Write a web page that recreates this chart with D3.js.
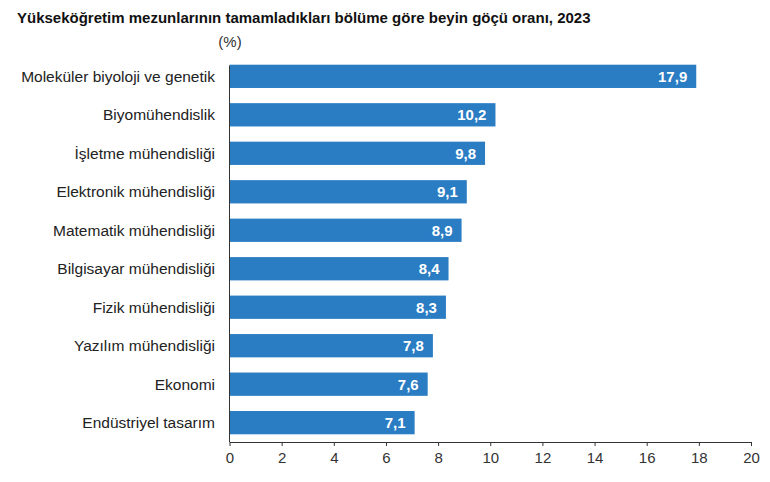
<!DOCTYPE html>
<html><head><meta charset="utf-8">
<script src="https://cdn.jsdelivr.net/npm/d3@7"></script>
<style>body{margin:0;background:#fff;} text{font-family:"Liberation Sans",Arial,sans-serif;}</style>
</head><body>
<svg id="c" width="770" height="482"></svg>
<script>
const title = "Yükseköğretim mezunlarının tamamladıkları bölüme göre beyin göçü oranı, 2023";
const unitLabel = "(%)";
const categories = ["Moleküler biyoloji ve genetik","Biyomühendislik","İşletme mühendisliği","Elektronik mühendisliği","Matematik mühendisliği","Bilgisayar mühendisliği","Fizik mühendisliği","Yazılım mühendisliği","Ekonomi","Endüstriyel tasarım"];
const values = [17.9,10.2,9.8,9.1,8.9,8.4,8.3,7.8,7.6,7.1];
const xTicks = [0,2,4,6,8,10,12,14,16,18,20];

const svg = d3.select("#c");
const x = d3.scaleLinear().domain([0,20]).range([229.5,751]);
const y = d3.scaleBand().domain(categories).range([57,442]).paddingInner(0.395).paddingOuter(0.2);
const barColor = "#2a7cc3";

svg.append("text").attr("x",17).attr("y",23).attr("font-size",15).attr("font-weight","bold").attr("fill","#111").text(title);
svg.append("text").attr("x",230).attr("y",47).attr("text-anchor","middle").attr("font-size",15).attr("fill","#333").text(unitLabel);

svg.selectAll("rect.bar").data(values).join("rect").attr("class","bar")
  .attr("x",x(0)).attr("y",(d,i)=>y(categories[i])).attr("width",d=>x(d)-x(0)).attr("height",y.bandwidth()).attr("fill",barColor);

svg.selectAll("text.val").data(values).join("text").attr("class","val")
  .attr("x",d=>x(d)-9).attr("y",(d,i)=>y(categories[i])+y.bandwidth()/2).attr("dy","0.36em")
  .attr("text-anchor","end").attr("font-size",15).attr("font-weight","bold").attr("fill","#fff")
  .text(d=>d.toFixed(1).replace(".",","));

svg.selectAll("text.cat").data(categories).join("text").attr("class","cat")
  .attr("x",215).attr("y",d=>y(d)+y.bandwidth()/2).attr("dy","0.36em")
  .attr("text-anchor","end").attr("font-size",15.5).attr("fill","#222").text(d=>d);

const xAxis = d3.axisBottom(x).tickValues(xTicks).tickSize(4).tickSizeOuter(0).tickFormat(d=>d);
const gx = svg.append("g").attr("transform","translate(0,442)").call(xAxis);
gx.select(".domain").attr("stroke","#333");
gx.selectAll(".tick line").attr("stroke","#333");
gx.selectAll(".tick text").attr("font-size",15).attr("fill","#333").attr("font-family","Liberation Sans, Arial, sans-serif").attr("dy","0.9em");

svg.append("line").attr("x1",x(0)).attr("x2",x(0)).attr("y1",y(categories[0])+1).attr("y2",442).attr("stroke","#333");
</script>
</body></html>
